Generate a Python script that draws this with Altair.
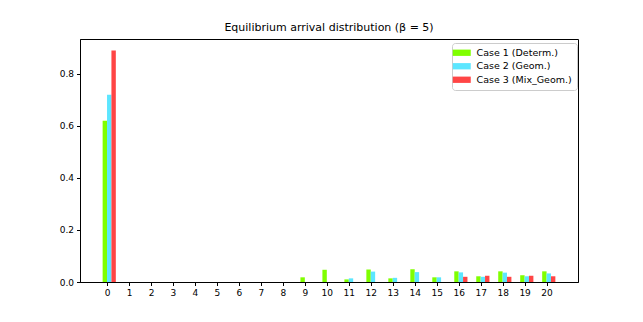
import altair as alt
import pandas as pd

categories = list(range(21))
case1 = [0.62, 0, 0, 0, 0, 0, 0, 0, 0, 0.018, 0.047, 0.010, 0.048, 0.014, 0.049, 0.018, 0.041, 0.022, 0.041, 0.026, 0.041]
case2 = [0.72, 0, 0, 0, 0, 0, 0, 0, 0, 0, 0, 0.014, 0.040, 0.016, 0.038, 0.018, 0.037, 0.020, 0.036, 0.022, 0.033]
case3 = [0.89, 0, 0, 0, 0, 0, 0, 0, 0, 0, 0, 0, 0, 0, 0, 0, 0.020, 0.024, 0.020, 0.024, 0.022]
series_names = ["Case 1 (Determ.)", "Case 2 (Geom.)", "Case 3 (Mix_Geom.)"]
series_colors = ["#80ff00", "#5ce6ff", "#ff4545"]
y_ticks = [0.0, 0.2, 0.4, 0.6, 0.8]

bar_w = 0.2
rows = []
for i, vals in enumerate([case1, case2, case3]):
    for c, v in zip(categories, vals):
        left = c + (i - 1) * bar_w
        rows.append({"series": series_names[i], "x0": left, "x1": left + bar_w, "v": v})
df = pd.DataFrame(rows)

chart = alt.Chart(df).mark_bar(opacity=1, strokeWidth=0).encode(
    x=alt.X("x0:Q", scale=alt.Scale(domain=[-1.23, 21.43], nice=False, zero=False),
            axis=alt.Axis(values=categories, format="d", title=None, grid=False)),
    x2="x1:Q",
    y=alt.Y("v:Q", scale=alt.Scale(domain=[0, 0.9345], nice=False),
            axis=alt.Axis(values=y_ticks, format=".1f", title=None, grid=False)),
    y2=alt.datum(0),
    color=alt.Color("series:N", scale=alt.Scale(domain=series_names, range=series_colors),
                    legend=alt.Legend(title=None, orient="none", legendX=372, legendY=4,
                                      symbolType="M-2,-0.7H2V0.7H-2Z", symbolSize=81,
                                      symbolOpacity=1, symbolStrokeWidth=0,
                                      labelFontSize=9.5, labelFont="DejaVu Sans", labelColor="#000",
                                      labelOffset=10, rowPadding=2.5, padding=5,
                                      strokeColor="#cccccc", fillColor="white", cornerRadius=3)),
).transform_filter(alt.datum.v > 0).properties(
    width=498, height=243,
    title=alt.TitleParams("Equilibrium arrival distribution (β = 5)", font="DejaVu Sans",
                          fontSize=11, fontWeight="normal", color="#000", anchor="middle", offset=6),
    autosize=alt.AutoSizeParams(type="none"),
    padding={"left": 72, "top": 31, "right": 57, "bottom": 32},
).configure_view(stroke="#000", strokeWidth=1).configure_axis(
    domainColor="#000", tickColor="#000", tickSize=3.5, labelFontSize=9,
    labelFont="DejaVu Sans", labelColor="#000", labelPadding=3, domainWidth=1,
)

chart.save("out.html", embed_options={"renderer": "svg", "actions": False})
